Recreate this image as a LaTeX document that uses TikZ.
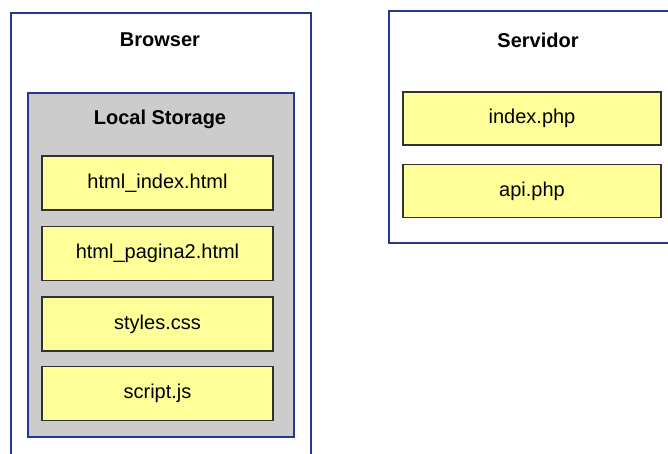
\documentclass[tikz,border=0pt]{standalone}
\usepackage{fontspec}
\setmainfont{Liberation Sans}
\usetikzlibrary{positioning}
\definecolor{frameblue}{RGB}{38,56,140}
\definecolor{lsgray}{RGB}{204,204,204}
\definecolor{fileyellow}{RGB}{255,255,153}
\definecolor{fileedge}{RGB}{50,50,50}

\begin{document}
\begin{tikzpicture}[
  x=1pt, y=-1pt,
  font=\fontsize{20}{24}\selectfont,
  frame/.style={draw=frameblue, line width=2.4pt, fill=white, inner sep=0pt},
  store/.style={draw=frameblue, line width=2.4pt, fill=lsgray, inner sep=0pt},
  title/.style={font=\fontsize{20}{24}\selectfont\bfseries},
  file/.style={draw=fileedge, line width=1.5pt, fill=fileyellow, minimum width=231pt, minimum height=54pt, inner sep=0pt}
]
\clip (0,0) rectangle (668,454);
% containers (cut by the page edge)
\node[frame, minimum width=300pt, minimum height=470pt, anchor=north west] (browser) at (10,12) {};
\node[frame, minimum width=310pt, minimum height=232pt, anchor=north west] (server) at (388,10) {};
\node[title] (browsertitle) at (160,40) {Browser};
\node[title] (servertitle) at (538,40) {Servidor};

% local storage
\node[store, minimum width=266pt, minimum height=344pt, anchor=north west] (ls) at (27,92) {};
\node[title] (lstitle) at (160,119) {Local Storage};
\node[file] (index) at (157.5,183) {html\_index.html};
\node[file, below=15pt of index] (pagina) {html\_pagina2.html};
\node[file, below=15pt of pagina] (styles) {styles.css};
\node[file, below=14pt of styles] (script) {script.js};

% server files
\node[file, minimum width=258pt, minimum height=53pt] (indexphp) at (532,118.5) {index.php};
\node[file, minimum width=258pt, minimum height=53pt, below=18pt of indexphp] (api) {api.php};
\end{tikzpicture}
\end{document}
